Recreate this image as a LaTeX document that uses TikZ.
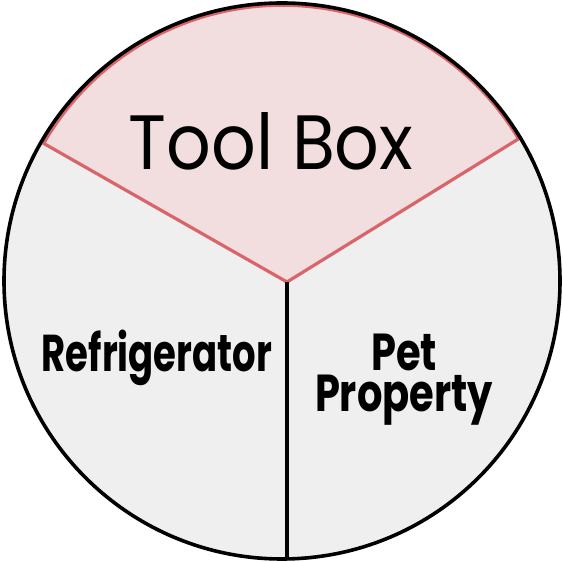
\documentclass[tikz,border=0pt]{standalone}
\usepackage{fontspec}
\setmainfont{Poppins}
\usetikzlibrary{calc}
\definecolor{sectorpink}{HTML}{F2DEDF}
\definecolor{sectorgray}{HTML}{EFEFEF}
\definecolor{edgered}{HTML}{D9646A}
\tikzset{
  rim/.style={draw=black, line width=3.6pt},
  redline/.style={draw=edgered, line width=3.2pt, line join=round},
  divider/.style={draw=black, line width=3.2pt},
  label/.style={text=black, inner sep=0pt}
}
\begin{document}
\begin{tikzpicture}[x=1pt, y=1pt]
  \useasboundingbox (0,0) rectangle (563,562);
  \coordinate (c) at (282,281);
  \coordinate (L) at ($(c)+(150:276)$);
  \coordinate (R) at ($(c)+(31:276)$);
  \coordinate (O) at (287,280);
  \coordinate (B) at (287,3);
  % lower sectors
  \fill[sectorgray] (c) circle[radius=278];
  % top sector
  \fill[sectorpink] (O) -- (R) arc[start angle=31, end angle=150, radius=276] -- cycle;
  \draw[redline] (L) -- (O) -- (R) arc[start angle=31, end angle=150, radius=275.5];
  \draw[divider] (O) -- (B);
  \draw[rim] (c) circle[radius=278];
  % labels
  \node[label, anchor=base, font=\fontsize{70}{72}\selectfont] (tool) at (271,392)
    {\scalebox{1}[1.1]{Tool Box}};
  \node[label, anchor=base, font=\bfseries\fontsize{37}{40}\selectfont] (fridge) at (157,190)
    {\scalebox{1}[1.4]{Refrigerator}};
  \node[label, font=\bfseries\fontsize{40}{41}\selectfont, align=center] (pet) at (404,182)
    {\scalebox{1}[1.3]{Pet}\\\scalebox{1}[1.3]{Property}};
\end{tikzpicture}
\end{document}
